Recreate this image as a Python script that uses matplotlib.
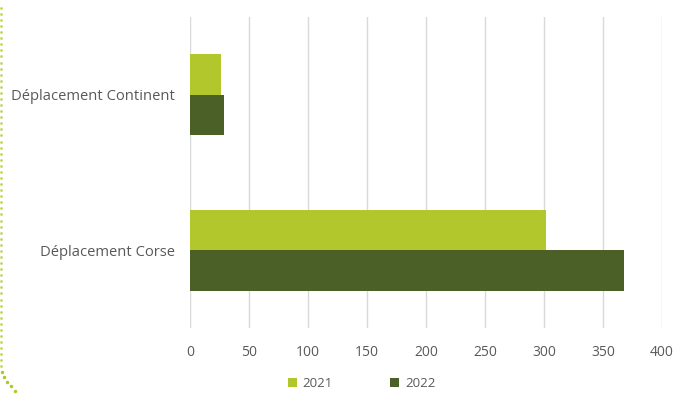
import numpy as np
import matplotlib.pyplot as plt
from matplotlib.lines import Line2D

categories = ['Déplacement Continent', 'Déplacement Corse']
years = ['2021', '2022']
values_2021 = [26, 302]
values_2022 = [29, 368]
colors = ['#b1c72c', '#4b6026']
xticks = [0, 50, 100, 150, 200, 250, 300, 350, 400]

plt.rcParams['font.family'] = ['Open Sans', 'DejaVu Sans']
txt = '#595959'

fig = plt.figure(figsize=(6.73, 3.94), dpi=100)
ax = fig.add_axes([0.2823, 0.1675, 0.7014, 0.7894])

y = np.arange(len(categories))
h = 0.26
ax.barh(y - h / 2, values_2021, height=h, color=colors[0], label=years[0])
ax.barh(y + h / 2, values_2022, height=h, color=colors[1], label=years[1])

ax.set_ylim(1.5, -0.5)
ax.set_xlim(0, 400)
ax.set_xticks(xticks)
ax.set_yticks(y)
ax.set_yticklabels(categories, fontsize=10.6)
ax.tick_params(length=0, colors=txt, labelsize=10)
ax.tick_params(axis='y', labelsize=10.6)
ax.tick_params(axis='x', pad=12)
ax.tick_params(axis='y', pad=11)
ax.grid(axis='x', color='#d9d9d9', linewidth=1)
ax.set_axisbelow(True)
for s in ax.spines.values():
    s.set_visible(False)

fig.legend(loc='lower center', bbox_to_anchor=(0.537, -0.02), ncol=2, frameon=False,
           handlelength=0.7, handleheight=0.7, columnspacing=4.3, handletextpad=0.45,
           fontsize=9.5, labelcolor=txt)

# decorative dotted border on the left
yy = np.linspace(0.07, 0.98, 60)
fig.add_artist(Line2D([0.001] * len(yy), yy, transform=fig.transFigure, linestyle='none',
                      marker='o', markersize=1.0, color='#c5d65a'))
cx = [0.003, 0.006, 0.011, 0.017, 0.023]
cy = [0.055, 0.042, 0.03, 0.02, 0.008]
fig.add_artist(Line2D(cx, cy, transform=fig.transFigure, linestyle='none',
                      marker='o', markersize=1.5, color='#b1c72c'))

fig.savefig('out.png', dpi=100)
